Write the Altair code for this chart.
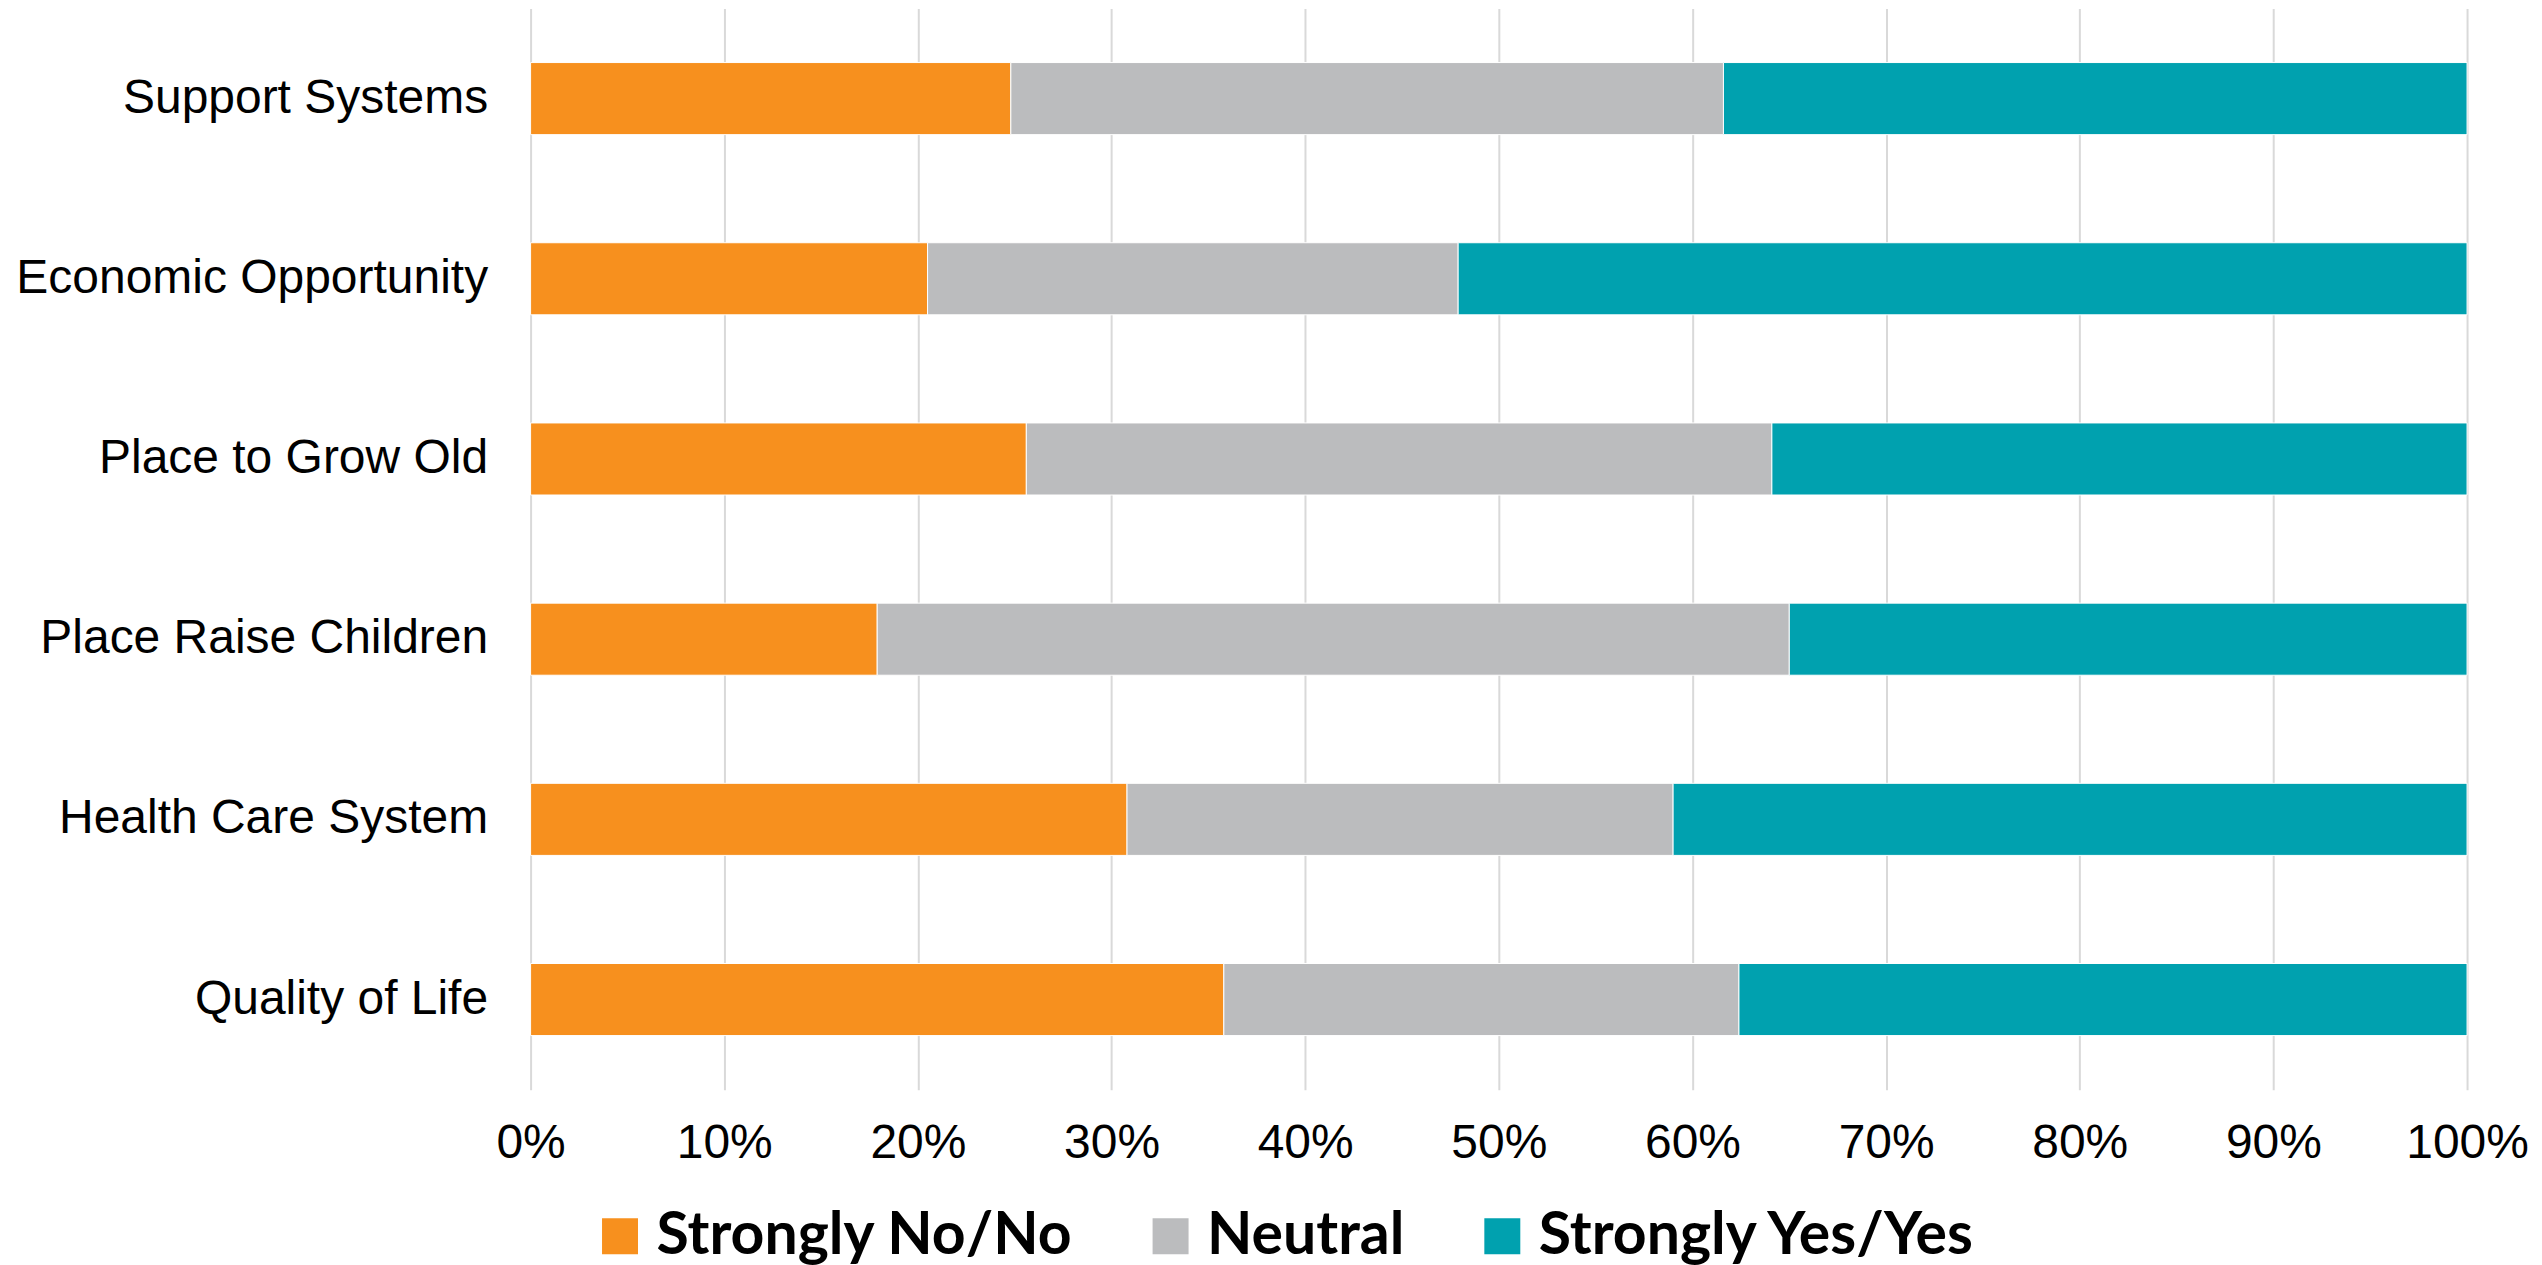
import altair as alt
import pandas as pd

categories = ["Support Systems", "Economic Opportunity", "Place to Grow Old",
              "Place Raise Children", "Health Care System", "Quality of Life"]
series = ["Strongly No/No", "Neutral", "Strongly Yes/Yes"]
no_vals = [24.8, 20.5, 25.6, 17.9, 30.8, 35.8]
neutral_vals = [36.8, 27.4, 38.5, 47.1, 28.2, 26.6]
yes_vals = [38.4, 52.1, 35.9, 35.0, 41.0, 37.6]
colors = ["#F7901E", "#BBBCBE", "#00A1AF"]

rows = []
for i, c in enumerate(categories):
    for j, (s, v) in enumerate(zip(series, [no_vals[i], neutral_vals[i], yes_vals[i]])):
        rows.append({"category": c, "series": s, "value": v / 100.0, "order": j})
df = pd.DataFrame(rows)

chart = alt.Chart(df).mark_bar(stroke="white", strokeWidth=1).encode(
    y=alt.Y("category:N", sort=categories, title=None,
            scale=alt.Scale(paddingInner=0.6, paddingOuter=0.3),
            axis=alt.Axis(labelFont="Liberation Sans", labelFontSize=48, labelColor="#000000",
                          labelPadding=43, ticks=False, domain=False, grid=False,
                          minExtent=518, maxExtent=518, labelLimit=1000)),
    x=alt.X("value:Q", stack="normalize", title=None,
            scale=alt.Scale(domain=[0, 1], nice=False),
            axis=alt.Axis(format="%", values=[i / 10 for i in range(11)],
                          labelFont="Liberation Sans", labelFontSize=48, labelColor="#000000",
                          labelPadding=30, ticks=False, domain=False,
                          grid=True, gridColor="#D9D9D9", gridWidth=2,
                          labelFlush=False)),
    color=alt.Color("series:N", sort=series,
                    scale=alt.Scale(domain=series, range=colors),
                    legend=alt.Legend(title=None, orient="none", direction="horizontal",
                                      legendX=60, legendY=1199,
                                      symbolType="square", symbolSize=1296,
                                      symbolStrokeWidth=0, symbolOpacity=1,
                                      labelFont="Lato", labelFontWeight="bold",
                                      labelFontSize=59, labelColor="#000000",
                                      labelOffset=7, columnPadding=68, padding=0,
                                      labelLimit=1000)),
    order=alt.Order("order:Q"),
).properties(
    width=1938, height=1082,
    padding={"left": 5, "top": 0, "right": 5, "bottom": 5},
).configure_view(stroke=None)

chart.save("out.html", embed_options={"renderer": "svg", "actions": False})
